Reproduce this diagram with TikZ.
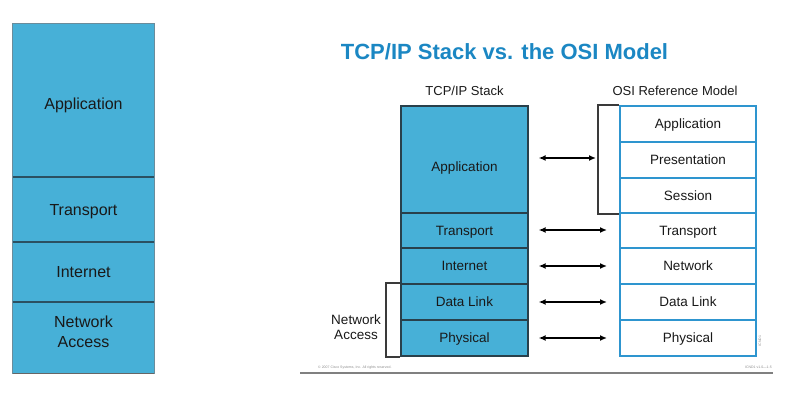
\documentclass[tikz,border=0pt]{standalone}
\usepackage{fontspec}
\setmainfont{Liberation Sans}
\usetikzlibrary{arrows.meta}
\definecolor{layerblue}{HTML}{47B0D7}
\definecolor{osiblue}{HTML}{2E95CF}
\definecolor{titleblue}{HTML}{1B87C3}
\definecolor{edgedark}{HTML}{33505E}
\definecolor{divdark}{HTML}{2B5061}
\definecolor{outeredge}{HTML}{6A8C9B}
\definecolor{brackgray}{HTML}{3A3A3A}
\tikzset{
  bigl/.style={draw=none, fill=layerblue, minimum width=141pt, inner sep=0pt, font=\fontsize{16}{20}\selectfont, align=center, text=black!90, text depth=0pt},
  outer/.style={draw=outeredge, line width=0.9pt},
  divider/.style={draw=divdark, line width=2pt},
  midl/.style={draw=edgedark!80!black, line width=1.3pt, fill=layerblue, minimum width=127pt, inner sep=0pt, font=\fontsize{13.5}{15}\selectfont, text=black!90, text depth=0pt},
  osil/.style={draw=osiblue, line width=2pt, fill=white, minimum width=136pt, inner sep=0pt, font=\fontsize{13.5}{15}\selectfont, text=black!90, text depth=0pt},
  hdr/.style={font=\fontsize{13}{15}\selectfont, text=black!90, inner sep=0pt},
  brack/.style={draw=brackgray, line width=1.8pt},
  biarrow/.style={{Latex[length=7pt,width=6pt]}-{Latex[length=7pt,width=6pt]}, line width=1.8pt, black},
  tiny/.style={font=\fontsize{3.5}{4}\selectfont, text=black!45, inner sep=0pt}
}
\begin{document}
\begin{tikzpicture}[x=1pt,y=-1pt]
\useasboundingbox (0,0) rectangle (787,403);
% left stack
\node[bigl, minimum height=153pt, text height=17.5pt] (lapp) at (83.5,100.5) {Application};
\node[bigl, minimum height=65pt] (ltrans) at (83.5,209.5) {Transport};
\node[bigl, minimum height=60pt] (linet) at (83.5,272) {Internet};
\node[bigl, minimum height=71pt, text depth=12.5pt] (lna) at (83.5,337.5) {Network\\Access};
\draw[outer] (lapp.north west) rectangle (lna.south east);
\draw[draw=black!60, line width=1.4pt] (lna.south west) -- (lna.south east);
\draw[divider] (lapp.south west) -- (lapp.south east);
\draw[divider] (ltrans.south west) -- (ltrans.south east);
\draw[divider] (linet.south west) -- (linet.south east);
% title
\node[font=\bfseries\fontsize{22}{24}\selectfont, text=titleblue, inner sep=0pt] (title) at (504.5,52) {TCP/IP Stack vs. the OSI Model};
\node[hdr] (htcp) at (464.5,91) {TCP/IP Stack};
\node[hdr] (hosi) at (675,91) {OSI Reference Model};
% middle stack
\node[midl, minimum height=107pt, label={[midl, draw=none, fill=none, yshift=-7pt, minimum width=0pt]center:Application}] (mapp) at (464.5,159.5) {};
\node[midl, minimum height=35pt] (mtrans) at (464.5,230.5) {Transport};
\node[midl, minimum height=36pt] (minet) at (464.5,266) {Internet};
\node[midl, minimum height=36pt] (mdl) at (464.5,302) {Data Link};
\node[midl, minimum height=36pt] (mphys) at (464.5,338) {Physical};
% OSI stack
\node[osil, minimum height=36pt] (oapp) at (688,124) {Application};
\node[osil, minimum height=36pt] (opres) at (688,160) {Presentation};
\node[osil, minimum height=35pt] (osess) at (688,195.5) {Session};
\node[osil, minimum height=35pt] (otrans) at (688,230.5) {Transport};
\node[osil, minimum height=36pt] (onet) at (688,266) {Network};
\node[osil, minimum height=36pt] (odl) at (688,302) {Data Link};
\node[osil, minimum height=36pt] (ophys) at (688,338) {Physical};
% brackets
\draw[brack] (oapp.north west) -- ++(-21,0) coordinate (obr) |- (osess.south west);
\draw[brack] (mdl.north west) -- ++(-14,0) coordinate (nbr) |- (mphys.south west);
\node[font=\fontsize{13.5}{14.5}\selectfont, align=center, text=black!90, inner sep=0pt] (nalab) at (356,327) {Network\\Access};
% arrows
\draw[biarrow] ([xshift=10pt,yshift=1.5pt]mapp.east) -- ([xshift=-2pt,yshift=1.5pt]obr |- mapp.east);
\draw[biarrow] ([xshift=10pt,yshift=0.5pt]mtrans.east) -- ([xshift=-12pt,yshift=0.5pt]otrans.west);
\draw[biarrow] ([xshift=10pt]minet.east) -- ([xshift=-12pt]onet.west);
\draw[biarrow] ([xshift=10pt]mdl.east) -- ([xshift=-12pt]odl.west);
\draw[biarrow] ([xshift=10pt]mphys.east) -- ([xshift=-12pt]ophys.west);
% footer
\coordinate (fl) at (300,373);
\coordinate (fr) at (773,373);
\draw[black!50, line width=1.5pt] (fl) -- (fr);
\node[tiny, anchor=west] (copy) at (318,367.5) {© 2007 Cisco Systems, Inc. All rights reserved.};
\node[tiny, anchor=east] (course) at (772,367.5) {ICND1 v1.0—1-5};
\node[tiny, rotate=90] (code) at (760,341) {ICND1};
\end{tikzpicture}
\end{document}
